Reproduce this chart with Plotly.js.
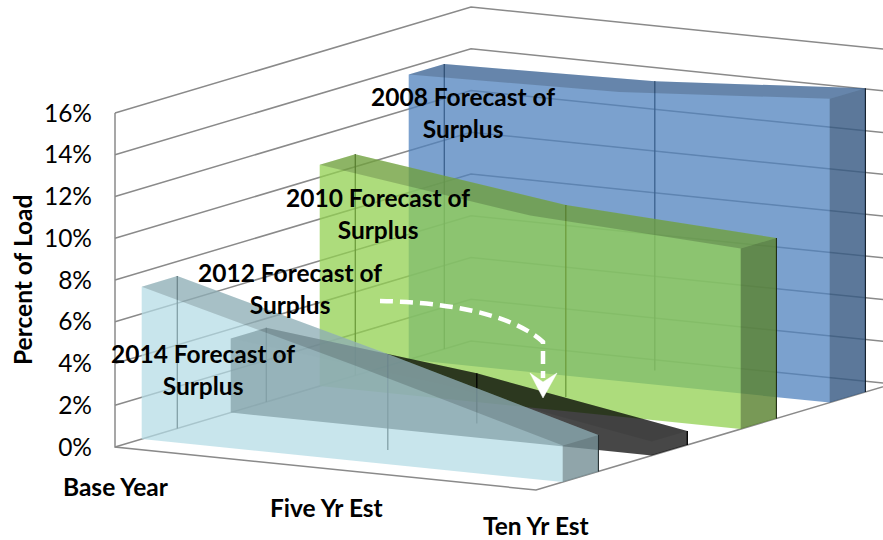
<!DOCTYPE html>
<html><head><meta charset="utf-8">
<script src="https://cdn.plot.ly/plotly-3.0.0.min.js"></script>
<style>html,body{margin:0;padding:0;background:#fff}</style></head>
<body><div id="chart" style="width:883px;height:540px"></div>
<script>
// ---- data (percent of load) ----
const categories = ['Base Year', 'Five Yr Est', 'Ten Yr Est'];
const seriesNames = ['2008 Forecast of<br>Surplus', '2010 Forecast of<br>Surplus', '2012 Forecast of<br>Surplus', '2014 Forecast of<br>Surplus'];
const surplus2008 = [13.65, 13.85, 14.55];
const surplus2010 = [10.6, 9.2, 8.65];
const surplus2012 = [3.55, 2.4, 0.67];
const surplus2014 = [7.3, 4.6, 1.75];
const zTicks = [0, 2, 4, 6, 8, 10, 12, 14, 16];

// ---- styles, back to front ----
const seriesValues = [surplus2008, surplus2010, surplus2012, surplus2014];
const depthStart = [0.825, 0.575, 0.325, 0.075];
const depthEnd = [0.925, 0.675, 0.425, 0.175];
const bodyFill = ['rgba(79,129,189,.75)', 'rgba(146,208,80,.75)', 'rgba(0,0,0,.72)', 'rgba(179,220,229,.73)'];
const topShade = [0.17, 0.18, 0.08, 0.16];
const sideShade = [0.25, 0.3, 0, 0.28];
const labelCentres = [[463, 112], [378, 213], [290, 288], [203, 369]];
const categoryCentres = [[116, 486], [326, 507], [536, 525]];

// ---- oblique projection onto the 2D axes: x in px units, y in percent units ----
const PX_PER_PCT = 20.875, ORIGIN_X = 115, ORIGIN_Y = 447;
const px = (u, d) => ORIGIN_X + 421 * u + 356 * d;
const py = (u, d, z) => z - (43 * u - 106 * d) / PX_PER_PCT;
const screenY = p => (ORIGIN_Y - p) / PX_PER_PCT;
const U = [0, 0.5, 1];

function path(points, extra) {
  return Object.assign({
    type: 'scatter', mode: 'lines', hoverinfo: 'skip', showlegend: false,
    x: points.map(p => px(p[0], p[1])), y: points.map(p => py(p[0], p[1], p[2]))
  }, extra);
}
const face = (points, color) => path(points.concat([points[0]]), {fill: 'toself', fillcolor: color, line: {width: 0, color: 'rgba(0,0,0,0)'}});
const edge = (points, color, width) => path(points, {line: {color: color, width: width}});

const traces = [];
const WALL = '#8a8a8a';
zTicks.forEach(z => traces.push(edge([[0, 0, z], [0, 1, z], [1, 1, z]], WALL, 1.5)));
traces.push(edge([[0, 0, 16], [0, 0, 0], [1, 0, 0], [1, 1, 0]], WALL, 1.5));

seriesValues.forEach((vals, s) => {
  const d0 = depthStart[s], d1 = depthEnd[s];
  U.forEach((u, i) => traces.push(edge([[u, d1, 0], [u, d1, vals[i]]], '#000', 1.3)));
  const body = [[0, d0, 0], [0, d0, vals[0]]];
  const topFace = [];
  U.forEach((u, i) => { body.push([u, d1, vals[i]]); topFace.push([u, d1, vals[i]]); });
  body.push([1, d1, 0], [1, d0, 0]);
  U.slice().reverse().forEach((u, r) => topFace.push([u, d0, vals[2 - r]]));
  traces.push(face(body, bodyFill[s]));
  traces.push(face(topFace, 'rgba(0,0,0,' + topShade[s] + ')'));
  traces.push(face([[1, d0, vals[2]], [1, d1, vals[2]], [1, d1, 0], [1, d0, 0]], 'rgba(0,0,0,' + sideShade[s] + ')'));
});

const FONT = 'Lato, "Open Sans", sans-serif';
const TEXT_SIZE = 24.5;
const annotations = [];
seriesNames.forEach((t, s) => annotations.push({
  text: '<b>' + t + '</b>', x: labelCentres[s][0], y: screenY(labelCentres[s][1]), xref: 'x', yref: 'y',
  showarrow: false, xanchor: 'center', yanchor: 'middle', align: 'center', font: {family: FONT, size: TEXT_SIZE, color: '#000'}
}));
categories.forEach((t, i) => annotations.push({
  text: '<b>' + t + '</b>', x: categoryCentres[i][0], y: screenY(categoryCentres[i][1]), xref: 'x', yref: 'y',
  showarrow: false, xanchor: 'center', yanchor: 'middle', font: {family: FONT, size: TEXT_SIZE, color: '#000'}
}));
annotations.push({text: '<b>Percent of Load</b>', x: 22, y: screenY(280), xref: 'x', yref: 'y', textangle: -90,
  showarrow: false, xanchor: 'center', yanchor: 'middle', font: {family: FONT, size: TEXT_SIZE, color: '#000'}});

const S = (x, y) => x + ',' + screenY(y);
const shapes = [
  {type: 'path', xref: 'x', yref: 'y', layer: 'above', line: {color: '#fff', width: 4.5, dash: '13px,7px'},
   path: 'M' + S(380, 301) + ' C' + S(440, 302) + ' ' + S(510, 312) + ' ' + S(543, 342) + ' L' + S(543, 378)},
  {type: 'path', xref: 'x', yref: 'y', layer: 'above', fillcolor: '#fff', line: {color: '#fff', width: 0.5},
   path: 'M' + S(530, 373) + ' L' + S(543, 382) + ' L' + S(557, 373) + ' L' + S(543, 398) + ' Z'}
];

Plotly.newPlot('chart', traces, {
  width: 883, height: 540, margin: {l: 0, r: 0, t: 0, b: 0}, showlegend: false,
  paper_bgcolor: '#fff', plot_bgcolor: 'rgba(0,0,0,0)', annotations, shapes,
  xaxis: {range: [0, 883], visible: false, fixedrange: true},
  yaxis: {range: [screenY(540), screenY(0)], anchor: 'free', position: 92 / 883, side: 'left',
    tickmode: 'array', tickvals: zTicks, ticktext: zTicks.map(z => z + '%'),
    showgrid: false, zeroline: false, showline: false, ticks: '', fixedrange: true,
    tickfont: {family: FONT, size: TEXT_SIZE, color: '#000'}}
}, {displayModeBar: false, staticPlot: true});
</script></body></html>
